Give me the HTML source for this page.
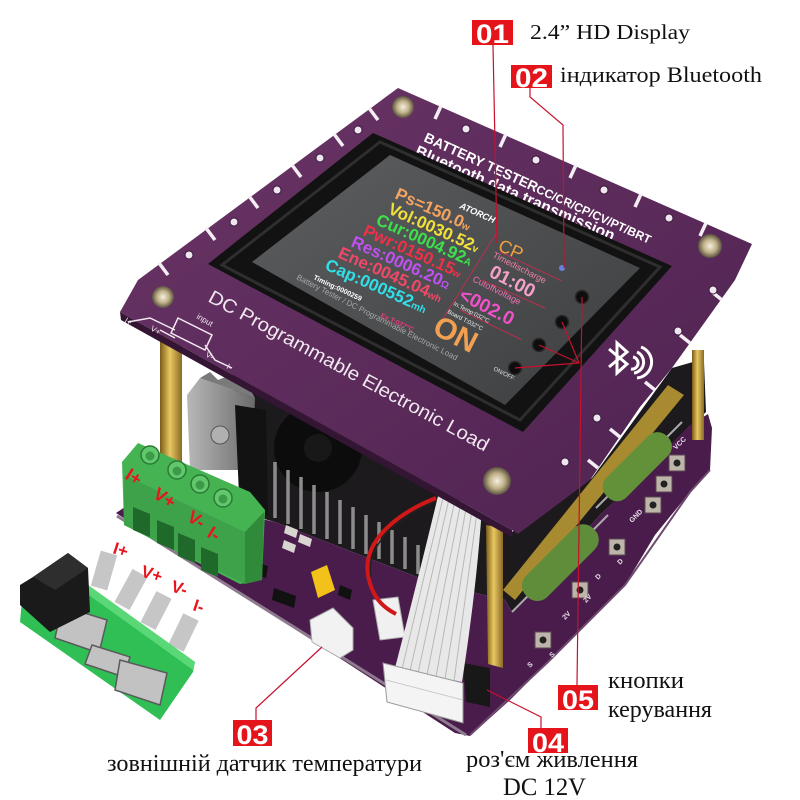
<!DOCTYPE html>
<html><head><meta charset="utf-8"><style>
html,body{margin:0;padding:0;background:#fff;}
svg{display:block}
</style></head><body>
<svg width="800" height="800" viewBox="0 0 800 800" xmlns="http://www.w3.org/2000/svg" font-family="Liberation Sans, sans-serif">
<defs>
<linearGradient id="gold" x1="0" x2="1" y1="0" y2="0"><stop offset="0" stop-color="#7a5a18"/><stop offset=".45" stop-color="#e8c860"/><stop offset="1" stop-color="#8a6a28"/></linearGradient>
<linearGradient id="scr" x1="0" y1="0" x2="1" y2="1"><stop offset="0" stop-color="#5c5e60"/><stop offset="1" stop-color="#3c3e40"/></linearGradient>
<linearGradient id="pcb" x1="0" y1="0" x2="1" y2="1"><stop offset="0" stop-color="#6a3566"/><stop offset="1" stop-color="#4e2250"/></linearGradient>
<radialGradient id="screw"><stop offset="0" stop-color="#f4f0e0"/><stop offset=".55" stop-color="#bfb088"/><stop offset="1" stop-color="#5a5040"/></radialGradient>
<linearGradient id="silver" x1="0" x2="1"><stop offset="0" stop-color="#b8b8b8"/><stop offset="1" stop-color="#6a6a6a"/></linearGradient>
</defs>
<rect width="800" height="800" fill="#fff"/>

<!-- dark interior -->
<polygon points="232,362 512,532 592,478 672,368 700,360 704,362 706,412 600,515 512,612 505,600 430,582 275,522 250,515 238,470" fill="#1c1a1c"/>
<circle cx="318" cy="448" r="44" fill="#0c0c0c"/>
<circle cx="318" cy="448" r="14" fill="#181818"/>

<!-- lower PCB -->
<polygon points="116,513 128,505 245,515 275,522 430,582 505,600 512,612 600,515 690,425 708,414 712,428 710,470 690,492 655,535 625,585 575,635 548,662 510,700 470,736 455,733" fill="#4a1c4b"/>
<polyline points="117,516 466,735" stroke="#8e7a8e" stroke-width="3" fill="none"/>
<polyline points="470,735 548,662 625,585 690,492 710,470" stroke="#6e4a6e" stroke-width="2" fill="none"/>

<!-- heatsink fins -->
<g stroke="#8c8c8c" stroke-width="3.5">
<line x1="275" y1="462" x2="275" y2="518"/><line x1="288" y1="470" x2="288" y2="524"/>
<line x1="301" y1="477" x2="301" y2="529"/><line x1="314" y1="485" x2="314" y2="534"/>
<line x1="327" y1="492" x2="327" y2="539"/><line x1="340" y1="500" x2="340" y2="544"/>
<line x1="353" y1="507" x2="353" y2="549"/><line x1="366" y1="515" x2="366" y2="554"/>
<line x1="379" y1="522" x2="379" y2="559"/><line x1="392" y1="530" x2="392" y2="564"/>
<line x1="405" y1="537" x2="405" y2="569"/><line x1="418" y1="545" x2="418" y2="574"/>
</g>

<!-- TO-220 -->
<polygon points="187,395 200,378 255,398 252,470 190,470" fill="url(#silver)"/>
<polygon points="200,378 210,372 218,380 228,376 236,384 246,382 255,398" fill="#7a7a7a"/>
<circle cx="220" cy="435" r="9" fill="#b0b0b0" stroke="#555"/>
<polygon points="235,405 266,410 268,515 240,517" fill="#121212"/>

<!-- lower pcb components -->
<g fill="#111">
<polygon points="250,560 268,566 266,578 248,572"/>
<polygon points="274,588 296,596 294,608 272,600"/>
<polygon points="230,548 244,552 242,560 228,556"/>
<polygon points="340,585 352,590 350,600 338,595"/>
</g>
<g fill="#d8d4d0">
<polygon points="286,525 298,530 296,538 284,533"/>
<polygon points="300,534 312,539 310,547 298,542"/>
<polygon points="284,540 296,545 294,553 282,548"/>
</g>
<polygon points="311,572 327,565 335,590 318,598" fill="#f2c21a"/>
<polygon points="310,620 333,608 353,628 353,650 340,658 312,642" fill="#f2f2f2" stroke="#aaa"/>
<polygon points="373,600 398,597 405,637 380,640" fill="#f0f0f0" stroke="#aaa"/>
<path d="M436,498 C400,512 362,540 368,575 C372,598 384,608 396,614" stroke="#d01818" stroke-width="4" fill="none"/>
<path d="M436,498 C400,512 362,540 368,575" stroke="#222" stroke-width="1.5" fill="none" transform="translate(3,2)"/>

<!-- gold plates / standoffs -->
<polygon points="668,385 684,395 515,600 503,590" fill="#a88a30"/>
<rect x="160" y="335" width="22" height="140" fill="url(#gold)"/>
<rect x="692" y="350" width="12" height="90" fill="url(#gold)"/>
<polygon points="486,525 503,528 503,668 488,664" fill="url(#gold)"/>

<!-- resistors -->
<line x1="682" y1="422" x2="596" y2="508" stroke="#aaa" stroke-width="2"/>
<line x1="608" y1="515" x2="512" y2="612" stroke="#aaa" stroke-width="2"/>
<rect x="-42" y="-14" width="85" height="28" rx="13" fill="#62913a" transform="translate(637,467) rotate(-45)"/>
<rect x="-47" y="-15" width="95" height="30" rx="14" fill="#5f8d3a" transform="translate(560,563) rotate(-45)"/>

<!-- pads -->
<g fill="#bdb4aa" stroke="#5a4a50">
<rect x="669" y="455" width="16" height="16"/><rect x="656" y="476" width="16" height="16"/><rect x="645" y="497" width="16" height="16"/>
<rect x="609" y="539" width="16" height="16"/><rect x="572" y="582" width="16" height="16"/><rect x="535" y="632" width="16" height="16"/>
</g>
<g fill="#222"><circle cx="677" cy="463" r="3.5"/><circle cx="664" cy="484" r="3.5"/><circle cx="653" cy="505" r="3.5"/><circle cx="617" cy="547" r="3.5"/><circle cx="580" cy="590" r="3.5"/><circle cx="543" cy="640" r="3.5"/></g>
<g fill="#e8e0e8" font-size="7" font-weight="bold">
<text transform="translate(676,450) rotate(-45)">VCC</text>
<text transform="translate(632,523) rotate(-45)">GND</text>
<text transform="translate(620,565) rotate(-45)">D</text>
<text transform="translate(598,580) rotate(-45)">D</text>
<text transform="translate(586,603) rotate(-45)">2V</text>
<text transform="translate(565,620) rotate(-45)">2V</text>
<text transform="translate(552,658) rotate(-45)">S</text>
<text transform="translate(530,668) rotate(-45)">S</text>
</g>

<!-- power jack -->
<polygon points="463,663 490,668 490,707 466,702" fill="#181818"/>

<!-- ribbon cable -->
<path d="M438,496 L482,506 C478,570 470,630 462,682 L395,668 C410,610 425,550 438,496 Z" fill="#e8e8e8"/>
<g stroke="#b8b8b8" stroke-width="1">
<line x1="443" y1="498" x2="402" y2="669"/><line x1="449" y1="499" x2="410" y2="671"/>
<line x1="455" y1="500" x2="418" y2="673"/><line x1="461" y1="502" x2="427" y2="675"/>
<line x1="467" y1="503" x2="436" y2="677"/><line x1="473" y1="504" x2="445" y2="679"/>
<line x1="478" y1="505" x2="454" y2="681"/>
</g>
<polygon points="383,663 463,683 463,723 387,702" fill="#f4f4f4" stroke="#999"/>
<line x1="386" y1="680" x2="463" y2="700" stroke="#ccc"/>

<!-- terminal block -->
<polygon points="122,462 138,443 250,492 265,510 262,580 240,584 124,525" fill="#45b352"/>
<polygon points="124,475 245,532 245,584 124,525" fill="#3ea24a"/>
<polygon points="245,532 264,512 262,580 245,584" fill="#2f8a3a"/>
<g fill="#1f6a2a">
<polygon points="133,507 150,514 150,537 133,530"/>
<polygon points="157,520 174,527 174,550 157,543"/>
<polygon points="178,533 195,540 195,563 178,556"/>
<polygon points="201,547 218,554 218,577 201,570"/>
</g>
<g fill="#62c86e" stroke="#2a7a35" stroke-width="1.5">
<circle cx="150" cy="455" r="9"/><circle cx="177" cy="470" r="9"/><circle cx="200" cy="484" r="9"/><circle cx="223" cy="498" r="9"/>
</g>
<g fill="#3c9a48"><circle cx="150" cy="456" r="4.5"/><circle cx="177" cy="471" r="4.5"/><circle cx="200" cy="485" r="4.5"/><circle cx="223" cy="499" r="4.5"/></g>
<g fill="#e8161c" font-weight="bold" font-size="18">
<text transform="translate(124,478) rotate(32)">I+</text>
<text transform="translate(152,497) rotate(32)">V+</text>
<text transform="translate(186,520) rotate(32)">V-</text>
<text transform="translate(206,536) rotate(32)">I-</text>
</g>

<!-- small green pcb -->
<g stroke="#c6c6c6" stroke-width="17">
<line x1="99" y1="588" x2="109" y2="553"/><line x1="122" y1="606" x2="140" y2="573"/>
<line x1="148" y1="626" x2="164" y2="595"/><line x1="176" y1="648" x2="191" y2="617"/>
</g>
<polygon points="60,575 88,585 195,662 193,672 160,720 20,622 22,600" fill="#2fbf55"/>
<polygon points="88,585 195,662 193,670 86,593" fill="#5ad878"/>
<g fill="#c2c2c2" stroke="#5a5a5a" stroke-width="1.5">
<polygon points="62,606 107,620 99,653 55,638"/>
<polygon points="92,645 130,657 124,677 85,664"/>
<polygon points="120,660 167,673 160,705 115,690"/>
</g>
<polygon points="33,577 68,553 88,568 90,612 50,632 20,605 20,585" fill="#1a1a1a"/>
<polygon points="33,577 68,553 88,568 55,590" fill="#2e2e2e"/>
<g fill="#e8161c" font-weight="bold" font-size="17">
<text transform="translate(112,553) rotate(18)">I+</text>
<text transform="translate(140,576) rotate(18)">V+</text>
<text transform="translate(170,591) rotate(18)">V-</text>
<text transform="translate(192,610) rotate(18)">I-</text>
</g>

<!-- top board -->
<polygon points="120,312 512,530 513,538 121,320" fill="#341634"/>
<polygon points="120,312 138,280 398,88 752,244 735,280 672,368 640,407 590,480 518,534 512,530" fill="url(#pcb)"/>
<!-- slits -->
<g stroke="#f4eef4" stroke-width="3.5">
<line x1="159" y1="263" x2="168" y2="275"/><line x1="206" y1="228" x2="215" y2="240"/>
<line x1="249" y1="196" x2="258" y2="208"/><line x1="292" y1="165" x2="301" y2="177"/>
<line x1="334" y1="134" x2="343" y2="146"/><line x1="369" y1="108" x2="378" y2="120"/>
<line x1="441" y1="106" x2="435" y2="119"/><line x1="506" y1="134" x2="500" y2="147"/>
<line x1="576" y1="165" x2="570" y2="178"/><line x1="641" y1="194" x2="635" y2="207"/>
<line x1="706" y1="223" x2="700" y2="236"/>
<line x1="722" y1="300" x2="712" y2="292"/><line x1="690" y1="343" x2="680" y2="335"/>
<line x1="655" y1="390" x2="645" y2="382"/><line x1="620" y1="437" x2="610" y2="429"/>
<line x1="598" y1="468" x2="588" y2="460"/>
</g>
<g fill="#efe6ef" stroke="#3a1a3a" stroke-width="1">
<circle cx="189" cy="255" r="4"/><circle cx="234" cy="222" r="4"/><circle cx="277" cy="190" r="4"/>
<circle cx="320" cy="158" r="4"/><circle cx="358" cy="130" r="4"/>
<circle cx="466" cy="129" r="4"/><circle cx="536" cy="160" r="4"/><circle cx="604" cy="190" r="4"/><circle cx="669" cy="218" r="4"/>
<circle cx="713" cy="290" r="4"/><circle cx="678" cy="331" r="4"/><circle cx="597" cy="418" r="4"/><circle cx="565" cy="462" r="4"/>
</g>
<!-- screws -->
<circle cx="403" cy="107" r="11" fill="url(#screw)"/>
<circle cx="163" cy="297" r="11" fill="url(#screw)"/>
<circle cx="710" cy="246" r="12" fill="url(#screw)"/>
<circle cx="497" cy="481" r="14" fill="url(#screw)"/>

<!-- board text -->
<text transform="translate(423,141) rotate(24.5)" font-size="14" font-weight="bold" fill="#fff">BATTERY TESTER<tspan font-size="12">CC/CR/CP/CV/PT/BRT</tspan></text>
<text transform="translate(414,155) rotate(23.5)" font-size="16" font-weight="bold" fill="#fff">Bluetooth data transmission</text>
<text transform="translate(207,301) rotate(28.5)" font-size="19" fill="#f0e8f0" textLength="316" lengthAdjust="spacingAndGlyphs">DC Programmable Electronic Load</text>
<g fill="none" stroke="#f0e8f0" stroke-width="1.5">
<polygon points="178,318 212,335 205,350 171,333"/>
<path d="M128,322 L150,318 L175,330 M160,330 L175,338 M205,345 L215,360 L232,368"/>
</g>
<g fill="#f0e8f0" font-size="8">
<text transform="translate(196,318) rotate(30)">input</text>
<text transform="translate(124,322) rotate(30)">I+</text>
<text transform="translate(150,330) rotate(30)">V+</text>
<text transform="translate(205,356) rotate(30)">V-</text>
<text transform="translate(226,368) rotate(30)">I-</text>
</g>
<!-- bluetooth symbol on board -->
<g stroke="#fff" stroke-width="3" fill="none" stroke-linejoin="miter">
<path d="M609,349 L627,364 L617,373 L617,343 L627,352 L609,367"/>
<path d="M633,357 a6,6 0 0 1 -2,12"/>
<path d="M637,352 a11,11 0 0 1 -3,21"/>
<path d="M641,347 a16,16 0 0 1 -4,31"/>
</g>

<!-- display -->
<polygon points="373,133 672,266 523,432 208,264" fill="#121212"/>
<polygon points="380,142 660,267 520,420 222,265" fill="none" stroke="#2e2e2e" stroke-width="3"/>
<polygon points="390,155 640,268 505,405 252,262" fill="url(#scr)"/>

<!-- screen text -->
<g font-weight="bold" font-size="17">
<text transform="translate(394,198) rotate(24)" fill="#f4a460">Ps=150.0<tspan font-size="10">w</tspan></text>
<text transform="translate(387,213) rotate(24)" fill="#f2e03a">Vol:0030.52<tspan font-size="10">v</tspan></text>
<text transform="translate(375,224) rotate(24)" fill="#3ee04a">Cur:0004.92<tspan font-size="10">A</tspan></text>
<text transform="translate(362,235) rotate(24)" fill="#f03048">Pwr:0150.15<tspan font-size="10">w</tspan></text>
<text transform="translate(350,246) rotate(24)" fill="#c050f0">Res:0006.20<tspan font-size="10">Ω</tspan></text>
<text transform="translate(337,257) rotate(24)" fill="#f04868">Ene:0045.04<tspan font-size="10">wh</tspan></text>
<text transform="translate(324,269) rotate(24)" fill="#30e0e8">Cap:000552<tspan font-size="10">mh</tspan></text>
</g>
<text transform="translate(313,279) rotate(25)" font-size="7" fill="#fff" font-weight="bold">Timing:0000259</text>
<text transform="translate(380,317) rotate(25)" font-size="7" fill="#e04080" font-weight="bold">Ex.T:027°C</text>
<text transform="translate(296,279) rotate(27)" font-size="8" fill="#a8a8a8">Battery Tester / DC Programmable Electronic Load</text>
<text transform="translate(459,208) rotate(24)" font-size="9" font-weight="bold" font-style="italic" fill="#fff">ATORCH</text>
<g stroke="#b83050" stroke-width="1" fill="none">
<line x1="497" y1="232" x2="436" y2="330"/>
<line x1="500" y1="252" x2="562" y2="281"/>
<line x1="482" y1="280" x2="545" y2="308"/>
<line x1="460" y1="310" x2="522" y2="340"/>
</g>
<text transform="translate(497,250) rotate(24)" font-size="18" fill="#f0a040">CP</text>
<text transform="translate(492,257) rotate(27)" font-size="9" fill="#f080a8">Timedischarge</text>
<text transform="translate(488,276) rotate(27)" font-size="19" fill="#f4a0c8" font-weight="bold">01:00</text>
<text transform="translate(472,281) rotate(27)" font-size="9" fill="#f070b0">Cutoffvoltage</text>
<text transform="translate(458,299) rotate(27)" font-size="19" fill="#f050c8" font-weight="bold">&lt;002.0</text>
<text transform="translate(453,305) rotate(27)" font-size="6" fill="#eee">In.Temp:032°C</text>
<text transform="translate(447,313) rotate(27)" font-size="6" fill="#eee">Board T:032°C</text>
<text transform="translate(431,333) rotate(27)" font-size="30" fill="#f0a050" font-weight="bold">ON</text>
<circle cx="562" cy="268" r="3" fill="#6a80e0"/>
<g fill="#0e0e0e" stroke="#2a2a2a" stroke-width="1.5">
<circle cx="582" cy="297" r="6.5"/><circle cx="562" cy="322" r="6.5"/><circle cx="539" cy="345" r="6.5"/><circle cx="515" cy="368" r="6.5"/>
</g>
<text transform="translate(493,370) rotate(27)" font-size="6" fill="#ddd">ON/OFF</text>

<!-- callout lines -->
<g stroke="#c8102e" stroke-width="1.2" fill="none">
<polyline points="493,45 497,243"/>
<polyline points="530,88 530,97 563,125 564,268"/>
<polyline points="577,685 582,297"/>
<line x1="579" y1="363" x2="562" y2="322"/>
<line x1="579" y1="363" x2="539" y2="345"/>
<line x1="579" y1="363" x2="515" y2="368"/>
<polyline points="256,720 256,708 322,647"/>
<polyline points="541,728 541,717 487,690"/>
</g>

<!-- number boxes -->
<g font-weight="bold" fill="#fff" font-size="27" text-anchor="middle">
<rect x="472" y="20" width="41" height="25" fill="#e5141b"/><text x="492.5" y="43" fill="#fff" textLength="33" lengthAdjust="spacingAndGlyphs">01</text>
<rect x="511" y="65" width="41" height="23" fill="#e5141b"/><text x="531.5" y="87" fill="#fff" textLength="33" lengthAdjust="spacingAndGlyphs">02</text>
<rect x="233" y="720" width="39" height="26" fill="#e5141b"/><text x="252.5" y="744" fill="#fff" textLength="32" lengthAdjust="spacingAndGlyphs">03</text>
<rect x="528" y="728" width="40" height="25" fill="#e5141b"/><text x="548" y="752" fill="#fff" textLength="32" lengthAdjust="spacingAndGlyphs">04</text>
<rect x="558" y="685" width="40" height="25" fill="#e5141b"/><text x="578" y="709" fill="#fff" textLength="32" lengthAdjust="spacingAndGlyphs">05</text>
</g>

<!-- label texts -->
<g font-family="Liberation Serif, 'Noto Serif CJK SC', serif" fill="#111">
<text x="530" y="39" font-size="21" textLength="160" lengthAdjust="spacingAndGlyphs">2.4” HD Display</text>
<text x="560" y="82" font-size="22" textLength="202" lengthAdjust="spacingAndGlyphs">індикатор Bluetooth</text>
<text x="608" y="688" font-size="24" textLength="76" lengthAdjust="spacingAndGlyphs">кнопки</text>
<text x="608" y="717" font-size="24" textLength="104" lengthAdjust="spacingAndGlyphs">керування</text>
<text x="107" y="771" font-size="24" textLength="315" lengthAdjust="spacingAndGlyphs">зовнішній датчик температури</text>
<text x="466" y="767" font-size="24" textLength="172" lengthAdjust="spacingAndGlyphs">роз'єм живлення</text>
<text x="503" y="795" font-size="25" textLength="83" lengthAdjust="spacingAndGlyphs">DC 12V</text>
</g>
</svg>
</body></html>
